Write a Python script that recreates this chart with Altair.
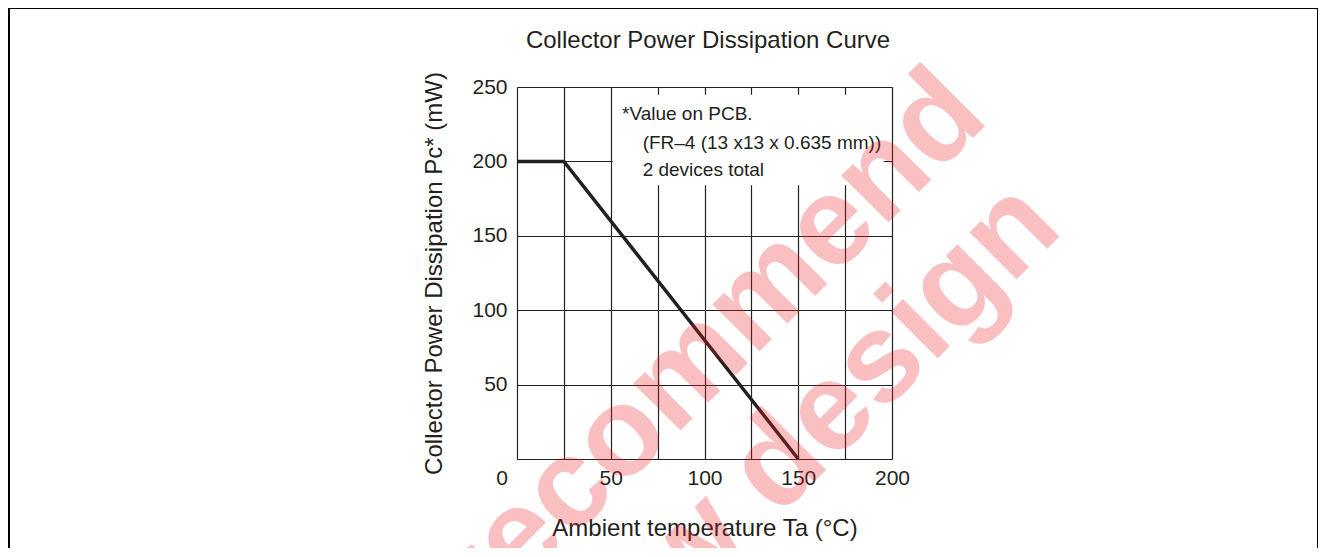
import altair as alt
import pandas as pd

# ---- data ----
temp_c = [0, 25, 150]
power_mw = [200, 200, 0]

x_ticks = [0, 25, 50, 75, 100, 125, 150, 175, 200]
y_ticks = [0, 25, 50, 75, 100, 125, 150, 175, 200, 225, 250]

chart_title = ["Collector Power Dissipation Curve"]
x_title = "Ambient temperature Ta (°C)"
y_title = "Collector Power Dissipation Pc* (mW)"

note_lines = ["*Value on PCB.", "(FR–4 (13 x13 x 0.635 mm))", "2 devices total"]
note_x = [56, 67, 67]
note_y = [228, 208.5, 190]

box_x = [51]
box_x2 = [195.5]
box_y = [184]
box_y2 = [244.8]

origin_label = ["0"]

watermark_lines = ["Not recommend", "for new design"]
watermark_px = [474, 548]
watermark_py = [33, 144]

FONT = "Liberation Sans"
INK = "#231f20"

W, H = 375, 372

curve_df = pd.DataFrame({"Ta": temp_c, "Pc": power_mw})
note_df = pd.DataFrame({"t": note_lines, "x": note_x, "y": note_y})
box_df = pd.DataFrame({"x": box_x, "x2": box_x2, "y": box_y, "y2": box_y2})
zero_df = pd.DataFrame({"t": origin_label, "x": [0], "y": [0]})
title_df = pd.DataFrame({"t": chart_title})
wm_df = pd.DataFrame({"t": watermark_lines, "px": watermark_px, "py": watermark_py})

xscale = alt.Scale(domain=[0, 200], nice=False, zero=False)
yscale = alt.Scale(domain=[0, 250], nice=False, zero=False)

x_axis = alt.Axis(
    values=x_ticks,
    labelExpr="(datum.value % 50 == 0 && datum.value > 0) ? datum.label : ''",
    grid=True, gridColor="#222222", gridWidth=1.2,
    domain=False, ticks=False, labelFlush=False,
    labelFont=FONT, labelFontSize=21, labelColor=INK, labelPadding=8,
    title=x_title, titleFont=FONT, titleFontSize=24, titleFontWeight="normal",
    titleColor=INK, titlePadding=28,
)
y_axis = alt.Axis(
    values=y_ticks,
    labelExpr="(datum.value % 50 == 0 && datum.value > 0) ? datum.label : ''",
    grid=True, gridColor="#222222", gridWidth=1.2,
    domain=False, ticks=False, labelFlush=False,
    labelFont=FONT, labelFontSize=21, labelColor=INK, labelPadding=10,
    title=y_title, titleFont=FONT, titleFontSize=24, titleFontWeight="normal",
    titleColor=INK, titlePadding=25,
)

frame = alt.Chart(zero_df).mark_rect(fillOpacity=0, stroke="black", strokeWidth=2).encode(
    x=alt.value(-508), x2=alt.value(801), y=alt.value(-79), y2=alt.value(600)
)

box = alt.Chart(box_df).mark_rect(color="white").encode(
    x=alt.X("x:Q", scale=xscale, axis=x_axis),
    x2="x2:Q",
    y=alt.Y("y:Q", scale=yscale, axis=y_axis),
    y2="y2:Q",
)

line = alt.Chart(curve_df).mark_line(color=INK, strokeWidth=3.5).encode(
    x=alt.X("Ta:Q", scale=xscale),
    y=alt.Y("Pc:Q", scale=yscale),
)

notes = alt.Chart(note_df).mark_text(
    align="left", baseline="alphabetic", font=FONT, fontSize=19, color=INK
).encode(
    x=alt.X("x:Q", scale=xscale),
    y=alt.Y("y:Q", scale=yscale),
    text="t:N",
)

zero = alt.Chart(zero_df).mark_text(
    align="center", baseline="top", font=FONT, fontSize=21, color=INK, dx=-15, dy=9
).encode(
    x=alt.X("x:Q", scale=xscale),
    y=alt.Y("y:Q", scale=yscale),
    text="t:N",
)

title = alt.Chart(title_df).mark_text(
    align="center", baseline="alphabetic", font=FONT, fontSize=24, color=INK
).encode(
    x=alt.value(191), y=alt.value(-39), text="t:N"
)

watermark = alt.Chart(wm_df).mark_text(
    align="right", baseline="alphabetic", font=FONT, fontSize=126, fontWeight="bold",
    color="#ee1c25", opacity=0.28, angle=315
).encode(
    x=alt.X("px:Q", scale=None),
    y=alt.Y("py:Q", scale=None),
    text="t:N",
)

chart = alt.layer(frame, box, line, notes, zero, title, watermark).properties(
    width=W, height=H,
    autosize=alt.AutoSizeParams(type="none"),
    padding={"left": 509, "top": 79, "right": 426, "bottom": 89},
).configure_view(
    stroke="#2a2a2a", strokeWidth=2.5
).configure(background="white")

chart.save("out.html", embed_options={"renderer": "svg", "actions": False})
